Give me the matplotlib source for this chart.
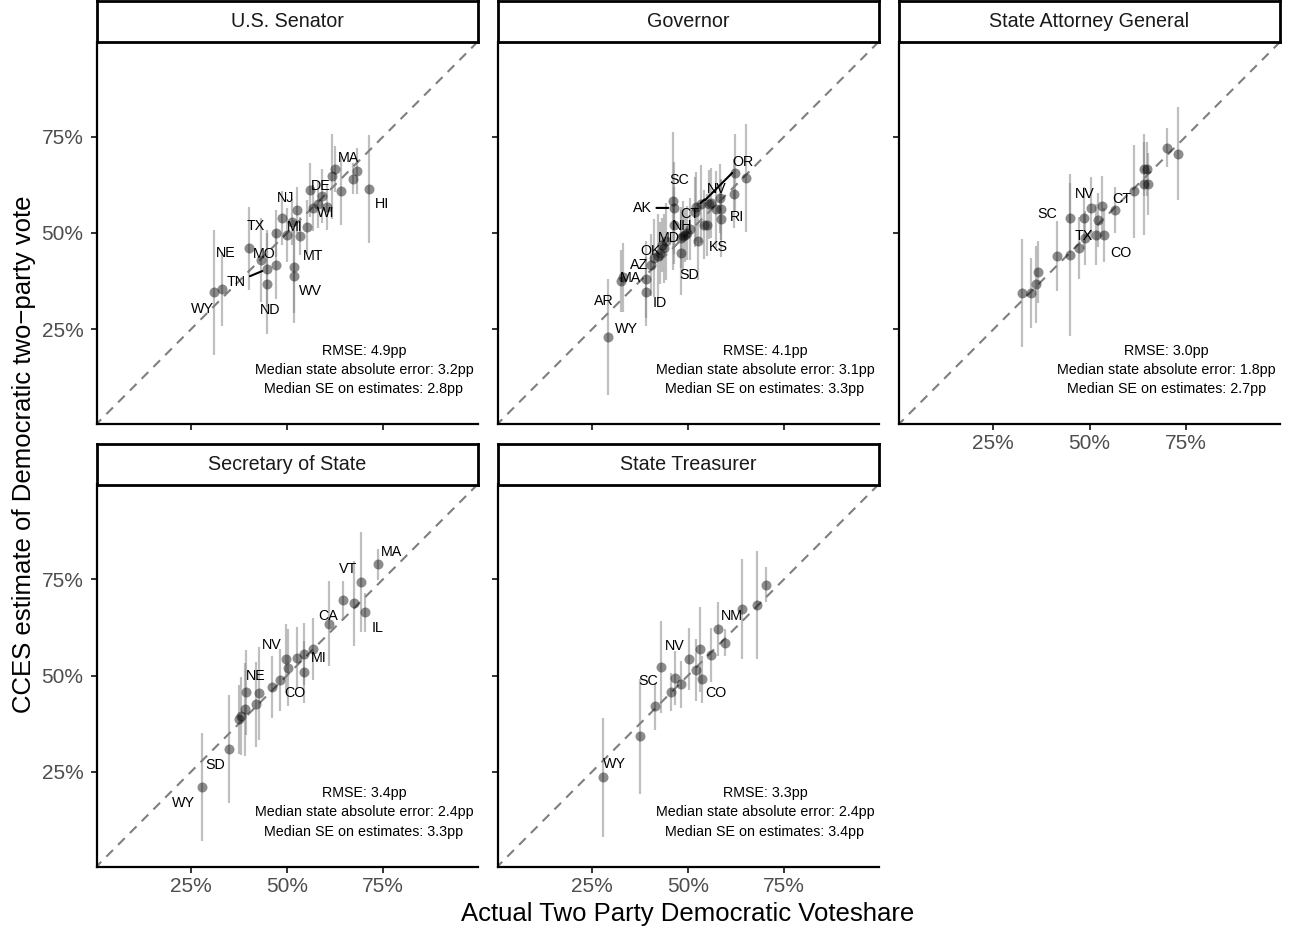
import matplotlib
matplotlib.use("Agg")
import matplotlib.pyplot as plt
from matplotlib.ticker import FixedLocator, FixedFormatter

# ---------------- data ----------------
senator_actual = [.310, .332, .402, .432, .449, .447, .471, .471, .488, .501, .512, .519, .519,
                  .527, .533, .553, .560, .567, .581, .590, .603, .616, .625, .640, .672, .683, .713]
senator_est = [.347, .356, .460, .430, .407, .369, .418, .499, .538, .494, .528, .413, .388,
               .559, .492, .515, .611, .564, .574, .595, .567, .647, .666, .610, .641, .660, .614]
senator_ci = [.162, .096, .108, .110, .100, .130, .090, .060, .070, .070, .060, .120, .120,
              .060, .050, .070, .070, .060, .060, .070, .060, .110, .060, .090, .040, .060, .140]
senator_state = ["WY", "UT", "NE", "MS", "TN", "ND", "MO", "IN", "TX", "FL", "AZ", "MT", "WV",
                 "NJ", "MI", "OH", "PA", "MN", "WI", "NV", "VA", "DE", "MA", "CT", "NY", "RI", "HI"]

governor_actual = [.291, .327, .332, .391, .392, .404, .412, .422, .427, .432, .437, .442, .461, .463,
                   .464, .481, .483, .486, .493, .498, .506, .517, .522, .527, .534, .541, .549, .555,
                   .559, .572, .584, .586, .587, .619, .622, .650]
governor_est = [.230, .375, .385, .348, .380, .418, .435, .440, .449, .470, .460, .479, .583, .565,
                .520, .488, .449, .492, .496, .500, .510, .555, .568, .479, .575, .522, .520, .574,
                .578, .561, .590, .537, .561, .602, .656, .643]
governor_ci = [.150, .080, .090, .090, .100, .080, .100, .110, .080, .070, .090, .100, .180, .120,
               .100, .080, .110, .090, .070, .070, .080, .090, .090, .100, .100, .090, .080, .090,
               .090, .100, .090, .100, .080, .090, .100, .140]
governor_state = ["WY", "AR", "MA", "ID", "TN", "AL", "NE", "VT", "AZ", "TX", "OK", "MD", "SC", "AK",
                  "NH", "OH", "SD", "IA", "GA", "FL", "WI", "CT", "NV", "KS", "OR", "ME", "MI", "CO",
                  "MN", "NM", "IL", "RI", "PA", "CA", "NY", "HI"]

ag_actual = [.325, .348, .361, .367, .415, .450, .450, .474, .488, .485, .504, .517, .521, .532,
             .537, .565, .616, .641, .650, .642, .651, .701, .729]
ag_est = [.345, .345, .367, .398, .440, .444, .539, .462, .487, .539, .565, .496, .533, .569,
          .496, .559, .608, .665, .665, .626, .627, .721, .706]
ag_ci = [.140, .090, .100, .080, .090, .210, .090, .080, .070, .080, .080, .080, .070, .080,
         .070, .060, .120, .070, .070, .130, .080, .050, .120]
ag_state = ["", "", "", "", "", "", "SC", "", "TX", "", "NV", "", "", "",
            "CO", "CT", "", "", "", "", "", "", ""]

sos_actual = [.280, .349, .374, .380, .391, .394, .419, .428, .460, .482, .497, .503, .527, .544,
              .544, .567, .609, .645, .674, .692, .703, .736]
sos_est = [.211, .310, .386, .395, .412, .457, .425, .454, .471, .488, .544, .520, .546, .555,
           .509, .569, .634, .695, .687, .742, .664, .788]
sos_ci = [.140, .140, .090, .100, .120, .110, .110, .120, .080, .080, .090, .100, .080, .080,
          .080, .080, .110, .050, .110, .130, .050, .040]
sos_state = ["WY", "SD", "", "", "", "NE", "", "", "", "CO", "NV", "", "", "",
             "", "MI", "CA", "", "", "VT", "IL", "MA"]

treas_actual = [.278, .375, .414, .431, .457, .466, .483, .503, .522, .532, .537, .561, .578,
                .597, .641, .678, .702]
treas_est = [.236, .342, .420, .522, .457, .494, .477, .543, .514, .568, .490, .553, .621,
             .585, .673, .682, .735]
treas_ci = [.155, .150, .060, .120, .050, .070, .060, .080, .080, .110, .060, .070, .070,
            .035, .130, .140, .045]
treas_state = ["WY", "", "", "SC", "", "", "", "NV", "", "", "CO", "", "", "", "NM", "", ""]

offices = ["U.S. Senator", "Governor", "State Attorney General", "Secretary of State", "State Treasurer"]
rmse = [4.9, 4.1, 3.0, 3.4, 3.3]
median_abs_err = [3.2, 3.1, 1.8, 2.4, 2.4]
median_se = [2.8, 3.3, 2.7, 3.3, 3.4]

tick_values = [0.25, 0.50, 0.75]
tick_labels = ["25%", "50%", "75%"]

panel_data = [
    (senator_actual, senator_est, senator_ci, senator_state),
    (governor_actual, governor_est, governor_ci, governor_state),
    (ag_actual, ag_est, ag_ci, ag_state),
    (sos_actual, sos_est, sos_ci, sos_state),
    (treas_actual, treas_est, treas_ci, treas_state),
]

# ---------------- layout: label offsets (pixels, dx right, dy up), segment flag ----------------
label_layout = [
    {"WY": (-11, -17, False), "NE": (-24, -5, False), "TN": (-31, -13, True), "ND": (4, -26, False),
     "MO": (-12, 11, False), "TX": (-27, -8, False), "MI": (-5, 9, False), "MT": (19, 11, False),
     "WV": (16, -15, False), "NJ": (-12, 12, False), "WI": (8, -9, False), "DE": (-11, -10, False),
     "MA": (13, 11, False), "HI": (13, -15, False)},
    {"OR": (42, 42, True), "SC": (6, 21, False), "NV": (20, 18, True), "AK": (-31, 0, True),
     "CT": (-5, -2, False), "RI": (16, 2, False), "NH": (8, -1, False), "MD": (3, 3, False),
     "KS": (20, -6, False), "OK": (-13, -3, False), "AZ": (-21, -12, False), "SD": (8, -22, False),
     "MA": (7, -1, False), "AR": (-18, -20, False), "ID": (14, -11, False), "WY": (19, 8, False)},
    {"SC": (-23, 4, False), "NV": (-6, 14, False), "TX": (-1, 2, False), "CT": (7, 11, False),
     "CO": (17, -18, False)},
    {"MA": (14, 12, False), "VT": (-13, 13, False), "CA": (-1, 8, False), "IL": (12, -16, False),
     "NV": (-14, 14, False), "MI": (6, -9, False), "NE": (10, 16, False), "CO": (15, -13, False),
     "SD": (-14, -16, False), "WY": (-19, -16, False)},
    {"WY": (12, 13, False), "SC": (-13, -14, False), "NV": (-14, 13, False), "CO": (14, -14, False),
     "NM": (-10, -7, False)},
]

plt.rcParams["font.family"] = ["Liberation Sans", "DejaVu Sans"]

W, H = 1289, 930
fig = plt.figure(figsize=(W / 100, H / 100), dpi=100)


def rect(left, top, width, height):
    return [left / W, 1 - (top + height) / H, width / W, height / H]


col_left = [96.5, 497.5, 899.0]
panel_w = 381.0
strip_top = [1.0, 444.0]
strip_h = 41.0
panel_top = [42.0, 484.5]
panel_h = 382.0
lims = (0.005, 0.995)

positions = [(0, 0), (0, 1), (0, 2), (1, 0), (1, 1)]

for i, (office, (xa, ye, ci, st)) in enumerate(zip(offices, panel_data)):
    r, c = positions[i]
    ax = fig.add_axes(rect(col_left[c], panel_top[r], panel_w, panel_h))
    ax.set_xlim(*lims)
    ax.set_ylim(*lims)
    for s in ["top", "right"]:
        ax.spines[s].set_visible(False)
    for s in ["left", "bottom"]:
        ax.spines[s].set_linewidth(1.6)
        ax.spines[s].set_color("black")

    ax.plot([0, 1], [0, 1], color="#7F7F7F", lw=1.5, ls=(0, (4.5, 3.5)), zorder=1)
    ax.vlines(xa, [y - e for y, e in zip(ye, ci)], [y + e for y, e in zip(ye, ci)],
              color="gray", alpha=0.5, lw=1.6, zorder=2)
    ax.scatter(xa, ye, s=52, color="black", alpha=0.45, linewidths=0, zorder=3)

    lay = label_layout[i]
    for x, y, s in zip(xa, ye, st):
        if s in lay:
            dx, dy, seg = lay[s]
            kw = {}
            if seg:
                kw["arrowprops"] = dict(arrowstyle="-", color="black", lw=1.5,
                                        shrinkA=1, shrinkB=4)
            ax.annotate(s, xy=(x, y), xytext=(dx, dy), textcoords="offset pixels",
                        ha="center", va="center", fontsize=10.3, color="black", zorder=4, **kw)

    ax.text(0.70, 0.145,
            f"RMSE: {rmse[i]:.1f}pp\nMedian state absolute error: {median_abs_err[i]:.1f}pp\n"
            f"Median SE on estimates: {median_se[i]:.1f}pp",
            ha="center", va="center", multialignment="center", fontsize=10.3,
            linespacing=1.47, color="black")

    ax.xaxis.set_major_locator(FixedLocator(tick_values))
    ax.yaxis.set_major_locator(FixedLocator(tick_values))
    ax.tick_params(axis="both", length=4.5, width=1.4, color="#333333",
                   labelcolor="#4D4D4D", labelsize=15)
    ax.tick_params(axis="x", pad=3)
    ax.tick_params(axis="y", pad=5)
    show_x = (r == 1) or (r == 0 and c == 2)
    show_y = (c == 0)
    if show_x:
        ax.xaxis.set_major_formatter(FixedFormatter(tick_labels))
    else:
        ax.set_xticklabels([])
    if show_y:
        ax.yaxis.set_major_formatter(FixedFormatter(tick_labels))
    else:
        ax.set_yticklabels([])

    sax = fig.add_axes(rect(col_left[c], strip_top[r], panel_w, strip_h))
    sax.set_xticks([])
    sax.set_yticks([])
    for s in sax.spines.values():
        s.set_linewidth(2.0)
        s.set_color("black")
    sax.text(0.5, 0.5, office, ha="center", va="center", fontsize=14.2, color="#1A1A1A",
             transform=sax.transAxes)

fig.text(688 / W, 1 - 914 / H, "Actual Two Party Democratic Voteshare",
         ha="center", va="center", fontsize=18.5, color="black")
fig.text(24 / W, 1 - 454 / H, "CCES estimate of Democratic two\u2212party vote",
         ha="center", va="center", rotation=90, fontsize=18.5, color="black")

fig.savefig("out.png", dpi=100)
